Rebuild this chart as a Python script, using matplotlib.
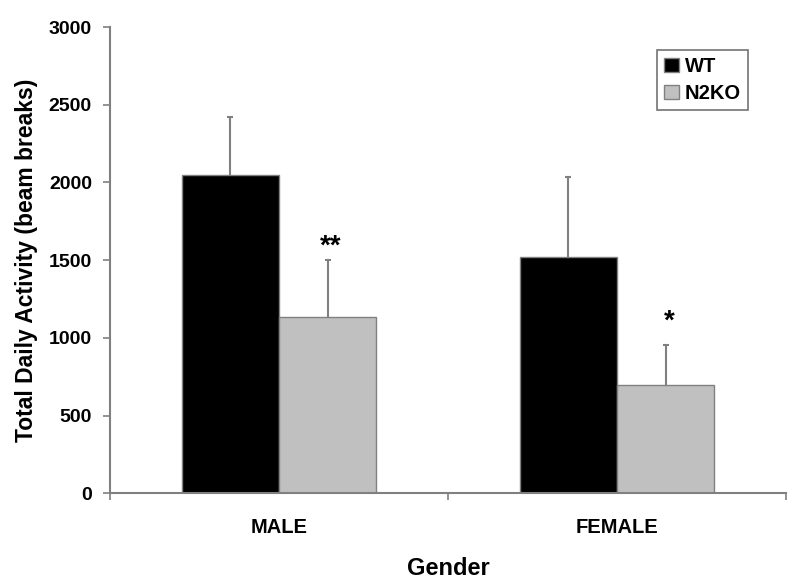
import numpy as np
import matplotlib
matplotlib.use("Agg")
import matplotlib.pyplot as plt

plt.rcParams['font.family'] = ['Liberation Sans', 'DejaVu Sans']
plt.rcParams['font.weight'] = 'bold'

# data
genders = ['MALE', 'FEMALE']
wt_mean = [2050, 1522]
wt_err = [373, 515]
ko_mean = [1132, 695]
ko_err = [369, 259]
marks = ['**', '*']
mark_y = [1590, 1105]

grey_line = '#808080'

fig = plt.figure(figsize=(8, 5.88), dpi=100)
ax = fig.add_axes([0.1375, 0.161, 0.845, 0.793])

x = np.arange(len(genders))
w = 0.287

ax.bar(x - w / 2, wt_mean, w, color='black', edgecolor=grey_line, linewidth=1, label='WT', zorder=2)
ax.bar(x + w / 2, ko_mean, w, color='#c0c0c0', edgecolor=grey_line, linewidth=1, label='N2KO', zorder=2)

# upper-only error bars, lower cap hidden
for xs, m, e in [(x - w / 2, wt_mean, wt_err), (x + w / 2, ko_mean, ko_err)]:
    eb = ax.errorbar(xs, m, yerr=[np.zeros(2), e], fmt='none', ecolor=grey_line,
                     elinewidth=1.5, capsize=2.5, capthick=1.5, zorder=1)
    eb[1][0].set_visible(False)

for xi, m, my in zip(x + w / 2, marks, mark_y):
    ax.text(xi + 0.01, my, m, ha='center', va='center', fontsize=20, fontweight='bold')

ax.set_xlim(-0.5, 1.5)
ax.set_ylim(0, 3000)
ax.set_yticks(np.arange(0, 3001, 500))
ax.tick_params(axis='y', labelsize=14, length=5, width=1.2, color=grey_line, pad=8)

# category boundary ticks, labels in between
ax.set_xticks([-0.5, 0.5, 1.5])
ax.set_xticklabels([])
ax.set_xticks(x, minor=True)
ax.set_xticklabels(genders, minor=True, fontsize=14.5, fontweight='bold')
ax.tick_params(axis='x', which='major', length=5, width=1.2, color=grey_line)
ax.tick_params(axis='x', which='minor', length=0, pad=18)

for s in ['top', 'right']:
    ax.spines[s].set_visible(False)
for s in ['left', 'bottom']:
    ax.spines[s].set_color(grey_line)
    ax.spines[s].set_linewidth(1.5)

ax.set_ylabel('Total Daily Activity (beam breaks)', fontsize=16.5, fontweight='bold', labelpad=8)
ax.set_xlabel('Gender', fontsize=17, fontweight='bold', labelpad=14)

leg = ax.legend(loc='upper right', bbox_to_anchor=(0.944, 0.951), fontsize=14.5, frameon=True,
                fancybox=False, edgecolor='#505050', handlelength=0.75, handleheight=0.75,
                handletextpad=0.3, borderpad=0.35, labelspacing=0.4, borderaxespad=0)
leg.get_frame().set_linewidth(1.2)

fig.savefig('out.png', dpi=100)
